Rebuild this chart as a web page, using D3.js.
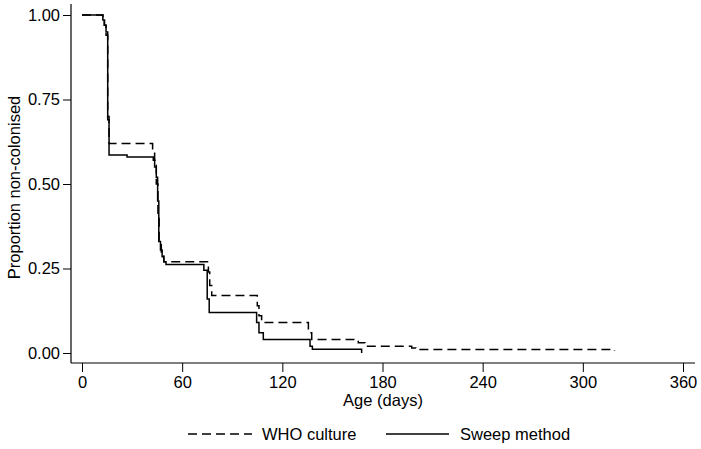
<!DOCTYPE html>
<html><head><meta charset="utf-8">
<script src="https://cdn.jsdelivr.net/npm/d3@7"></script>
<style>body{margin:0;background:#fff}svg{display:block}text{font-family:"Liberation Sans",Arial,sans-serif;fill:#000}</style>
</head><body>
<svg id="c" width="701" height="449"></svg>
<script>
const xTicks = [0, 60, 120, 180, 240, 300, 360];
const yTicks = [0, 0.25, 0.5, 0.75, 1];
const seriesNames = ["WHO culture", "Sweep method"];
const whoDays = [0, 12.5, 13.3, 14.4, 15.4, 16.2, 42.3, 43.5, 44.5, 45.5, 46.2, 47.5, 49, 75.7, 76.5, 77.7, 105, 106, 107.6, 135.6, 137.6, 165.5, 169.5, 197.5, 200, 319];
const whoSurv = [1.0, 0.985, 0.97, 0.94, 0.70, 0.62, 0.60, 0.57, 0.50, 0.40, 0.32, 0.29, 0.27, 0.24, 0.20, 0.17, 0.14, 0.11, 0.09, 0.06, 0.04, 0.03, 0.02, 0.015, 0.01, 0.006];
const sweepDays = [0, 12.5, 13.5, 14.4, 15.4, 16.2, 27, 42.7, 43.5, 44.5, 45.3, 46, 47, 48, 49, 50.3, 73, 75, 76.2, 104.6, 106, 108.6, 136.6, 138, 167.5];
const sweepSurv = [1.0, 0.985, 0.97, 0.95, 0.69, 0.586, 0.58, 0.57, 0.55, 0.52, 0.45, 0.33, 0.305, 0.285, 0.27, 0.262, 0.245, 0.16, 0.12, 0.09, 0.06, 0.04, 0.02, 0.011, 0.0];

const FS = 16.5;
const svg = d3.select("#c");
const x = d3.scaleLinear().domain([0, 360]).range([82, 683]);
const y = d3.scaleLinear().domain([0, 1]).range([353, 15]);
const pL = 71, pR = 695, pT = 4, pB = 363;

// y axis
const ya = svg.append("g").attr("transform", `translate(${pL},0)`)
  .call(d3.axisLeft(y).tickValues(yTicks).tickFormat(d3.format(".2f")).tickSize(8).tickPadding(3).tickSizeOuter(0));
ya.select(".domain").remove();
ya.append("line").attr("x1",0).attr("x2",0).attr("y1",pT).attr("y2",pB).attr("stroke","#000").attr("stroke-width",1.2);
ya.selectAll(".tick line").attr("stroke","#000").attr("stroke-width",1);
ya.selectAll(".tick text").attr("font-size",FS).attr("font-family","Liberation Sans, Arial, sans-serif").attr("fill","#000");

// x axis
const xa = svg.append("g").attr("transform", `translate(0,${pB})`)
  .call(d3.axisBottom(x).tickValues(xTicks).tickFormat(d3.format("d")).tickSize(9).tickPadding(4).tickSizeOuter(0));
xa.select(".domain").remove();
xa.append("line").attr("x1",pL).attr("x2",pR).attr("y1",0).attr("y2",0).attr("stroke","#000").attr("stroke-width",1.2);
xa.selectAll(".tick line").attr("stroke","#000").attr("stroke-width",1);
xa.selectAll(".tick text").attr("font-size",FS).attr("font-family","Liberation Sans, Arial, sans-serif").attr("fill","#000");

// titles
svg.append("text").attr("x", (pL+pR)/2).attr("y", 406).attr("text-anchor","middle").attr("font-size",FS).text("Age (days)");
svg.append("text").attr("transform", `translate(20,${(pT+pB)/2+4}) rotate(-90)`).attr("text-anchor","middle").attr("font-size",FS).text("Proportion non-colonised");

// curves
const line = d3.line().x(d => x(d[0])).y(d => y(d[1])).curve(d3.curveStepAfter);
const who = whoDays.map((d,i) => [d, whoSurv[i]]);
const sweep = sweepDays.map((d,i) => [d, sweepSurv[i]]);
svg.append("path").datum(who).attr("d", line).attr("fill","none").attr("stroke","#000").attr("stroke-width",1.5).attr("stroke-dasharray","9,5");
svg.append("path").datum(sweep).attr("d", line).attr("fill","none").attr("stroke","#000").attr("stroke-width",1.5);

// legend
const leg = svg.append("g");
leg.append("line").attr("x1",188).attr("x2",252).attr("y1",434).attr("y2",434).attr("stroke","#000").attr("stroke-width",1.5).attr("stroke-dasharray","9,5");
leg.append("text").attr("x",262).attr("y",440).attr("font-size",FS).text(seriesNames[0]);
leg.append("line").attr("x1",386).attr("x2",449).attr("y1",434).attr("y2",434).attr("stroke","#000").attr("stroke-width",1.5);
leg.append("text").attr("x",460).attr("y",440).attr("font-size",FS).text(seriesNames[1]);
</script>
</body></html>
